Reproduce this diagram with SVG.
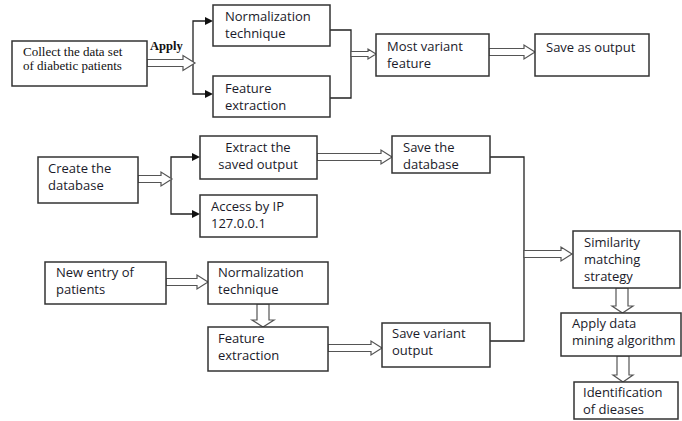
<svg xmlns="http://www.w3.org/2000/svg" width="682" height="421" viewBox="0 0 682 421">
<defs>
<style>
.box{fill:#fff;stroke:#333;stroke-width:1.5}
.t{font-family:"Open Sans","Liberation Sans",sans-serif;font-size:13px;fill:#1a1a2a}
.s{font-family:"Liberation Serif",serif;font-size:13px;fill:#111}
.ln{fill:none;stroke:#222;stroke-width:1.3}
.ha{fill:#fff;stroke:#555;stroke-width:1.2}
.hd{fill:#111}
</style>
</defs>
<rect width="682" height="421" fill="#fff"/>
<g id="connectors">
<polyline class="ln" points="206,21 193,21 193,94 206,94"/>
<path class="hd" d="M205,17 L213,21 L205,25 z"/>
<path class="hd" d="M205,90 L213,94 L205,98 z"/>
<polyline class="ln" points="330,30 351,30 351,98 330,98"/>
<polyline class="ln" points="192,157 171,157 171,214 192,214"/>
<path class="hd" d="M192,153 L200,157 L192,161 z"/>
<path class="hd" d="M192,210 L200,214 L192,218 z"/>
<polyline class="ln" points="490,157 524,157 524,341 489,341"/>
<text class="s" x="150" y="50" style="font-weight:bold;font-size:12.5px">Apply</text>
<polygon class="ha" points="147,59.5 183,59.5 183,55.5 195,63 183,70.5 183,66.5 147,66.5"/>
<polygon class="ha" points="351,51.5 368,51.5 368,49 376,54 368,59 368,56.5 351,56.5"/>
<polygon class="ha" points="489,48.5 524,48.5 524,45 535,52 524,59 524,55.5 489,55.5"/>
<polygon class="ha" points="138,175.5 161,175.5 161,172 172,179 161,186 161,182.5 138,182.5"/>
<polygon class="ha" points="317,153.5 381,153.5 381,150 392,157 381,164 381,160.5 317,160.5"/>
<polygon class="ha" points="524,250.5 561,250.5 561,247 572,254 561,261 561,257.5 524,257.5"/>
<polygon class="ha" points="166,278.5 197,278.5 197,275 208,282 197,289 197,285.5 166,285.5"/>
<polygon class="ha" points="328,344.5 371,344.5 371,341 382,348 371,355 371,351.5 328,351.5"/>
<polygon class="ha" points="257,304 269,304 269,320 274,320 263,327 252,320 257,320"/>
<polygon class="ha" points="616,288 628,288 628,306 633,306 622.5,313 612,306 616,306"/>
<polygon class="ha" points="617,356 629,356 629,375 633,375 623,382 613,375 617,375"/>
</g>
<g id="collect"><rect class="box" x="12" y="41" width="135" height="45"/>
<text class="s" x="23" y="56">Collect the data set</text><text class="s" x="23" y="70">of diabetic patients</text></g>
<g id="norm1"><rect class="box" x="213" y="5" width="117" height="41"/>
<text class="t" x="225" y="21">Normalization</text><text class="t" x="225" y="38">technique</text></g>
<g id="feat1"><rect class="box" x="213" y="76" width="117" height="41"/>
<text class="t" x="225" y="93">Feature</text><text class="t" x="225" y="110">extraction</text></g>
<g id="mostvariant"><rect class="box" x="376" y="34" width="113" height="42"/>
<text class="t" x="387" y="51">Most variant</text><text class="t" x="387" y="68">feature</text></g>
<g id="saveoutput"><rect class="box" x="535" y="34" width="114" height="42"/>
<text class="t" x="546" y="52">Save as output</text></g>
<g id="createdb"><rect class="box" x="38" y="157" width="100" height="46"/>
<text class="t" x="48" y="173">Create the</text><text class="t" x="48" y="190">database</text></g>
<g id="extract"><rect class="box" x="200" y="136" width="117" height="43"/>
<text class="t" x="258" y="152" text-anchor="middle">Extract the</text><text class="t" x="258" y="169" text-anchor="middle">saved output</text></g>
<g id="access"><rect class="box" x="200" y="195" width="117" height="42"/>
<text class="t" x="211" y="211">Access by IP</text><text class="t" x="211" y="228">127.0.0.1</text></g>
<g id="savedb"><rect class="box" x="392" y="136" width="98" height="37"/>
<text class="t" x="403" y="152">Save the</text><text class="t" x="403" y="169">database</text></g>
<g id="newentry"><rect class="box" x="45" y="262" width="121" height="42"/>
<text class="t" x="56" y="277">New entry of</text><text class="t" x="56" y="294">patients</text></g>
<g id="norm2"><rect class="box" x="208" y="262" width="120" height="42"/>
<text class="t" x="218" y="277">Normalization</text><text class="t" x="218" y="294">technique</text></g>
<g id="feat2"><rect class="box" x="208" y="327" width="120" height="44"/>
<text class="t" x="218" y="343">Feature</text><text class="t" x="218" y="360">extraction</text></g>
<g id="savevariant"><rect class="box" x="382" y="323" width="108" height="44"/>
<text class="t" x="392" y="338">Save variant</text><text class="t" x="392" y="355">output</text></g>
<g id="similarity"><rect class="box" x="573" y="231" width="107" height="57"/>
<text class="t" x="584" y="247">Similarity</text><text class="t" x="584" y="264">matching</text><text class="t" x="584" y="281">strategy</text></g>
<g id="applymining"><rect class="box" x="561" y="313" width="120" height="43"/>
<text class="t" x="572" y="328">Apply data</text><text class="t" x="572" y="345">mining algorithm</text></g>
<g id="identify"><rect class="box" x="574" y="382" width="104" height="37"/>
<text class="t" x="583" y="397">Identification</text><text class="t" x="583" y="414">of dieases</text></g>
</svg>
